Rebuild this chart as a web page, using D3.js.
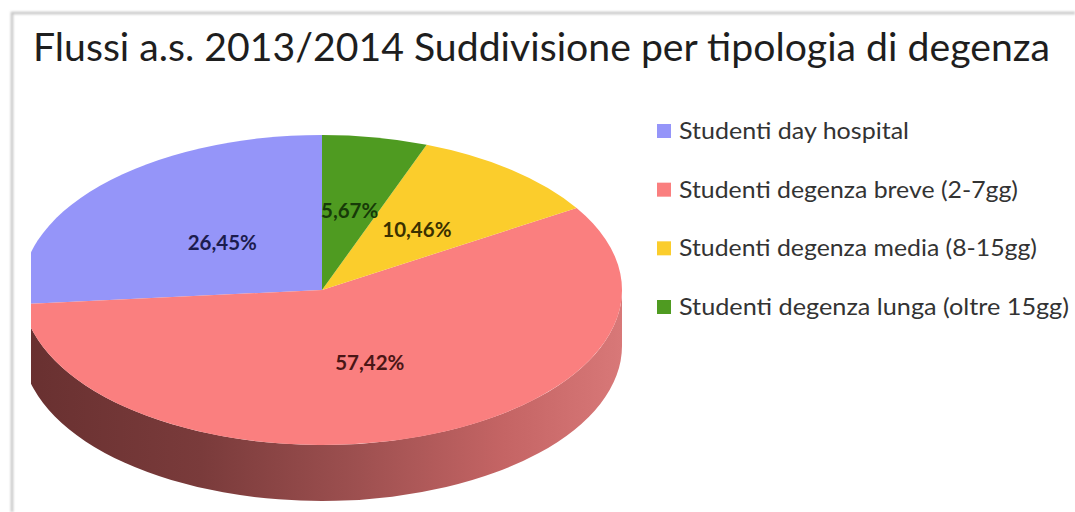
<!DOCTYPE html>
<html><head><meta charset="utf-8">
<script src="https://cdn.jsdelivr.net/npm/d3@7"></script>
<style>html,body{margin:0;padding:0;background:#fff;}svg{display:block;}</style>
</head><body>
<svg id="chart" width="1075" height="512"></svg>
<script>
const titleText = "Flussi a.s. 2013/2014 Suddivisione per tipologia di degenza";
const categories = ["Studenti day hospital","Studenti degenza breve (2-7gg)","Studenti degenza media (8-15gg)","Studenti degenza lunga (oltre 15gg)"];
const values = [26.45, 57.42, 10.46, 5.67];
const valueLabels = ["26,45%","57,42%","10,46%","5,67%"];
const colors = ["#9595f9","#fa7f7f","#fbcd2c","#4f9b21"];
const labelColors = ["#1c1c4e","#4a1616","#3a3000","#173a08"];

const svg = d3.select("#chart");
const W = 1075, H = 512;
svg.append("rect").attr("width",W).attr("height",H).attr("fill","#fff");

// frame
const defs = svg.append("defs");
const blur = defs.append("filter").attr("id","soft");
blur.append("feGaussianBlur").attr("stdDeviation",0.8);
svg.append("path").attr("d",`M12,${H} L12,13 L${W},13`).attr("fill","none")
  .attr("stroke","#c4c4c4").attr("stroke-width",2.5).attr("filter","url(#soft)");

// title
svg.append("text").attr("x",33).attr("y",61).text(titleText)
  .attr("font-family","Lato, 'Open Sans', sans-serif").attr("font-size",39)
  .attr("fill","#1e1e1e").attr("textLength",1017).attr("lengthAdjust","spacingAndGlyphs");

// pie geometry
const cx = 322, cy = 290, rx = 300, ry = 155, depth = 56;
const pie = d3.pie().sort(null).value(d => d).startAngle(2*Math.PI).endAngle(0);
const arcs = pie(values);

defs.append("clipPath").attr("id","pieclip").append("rect")
  .attr("x",31).attr("y",0).attr("width",W).attr("height",H);
const grad = defs.append("linearGradient").attr("id","sideGrad")
  .attr("gradientUnits","userSpaceOnUse").attr("x1",cx-rx).attr("x2",cx+rx).attr("y1",0).attr("y2",0);
[[0,"#683030"],[0.3,"#7a3b3b"],[0.55,"#9c4f4f"],[0.8,"#c46464"],[1,"#d87878"]]
  .forEach(s => grad.append("stop").attr("offset",s[0]).attr("stop-color",s[1]));

const pieG = svg.append("g").attr("clip-path","url(#pieclip)");
const P = (a, dy=0) => [cx + rx*Math.sin(a), cy - ry*Math.cos(a) + dy];

// sides (front half only)
arcs.forEach((d,i) => {
  const lo = Math.min(d.startAngle,d.endAngle), hi = Math.max(d.startAngle,d.endAngle);
  const s = Math.max(lo, Math.PI/2), e = Math.min(hi, 3*Math.PI/2);
  if (e <= s) return;
  const p1 = P(s), p2 = P(e), p3 = P(e,depth), p4 = P(s,depth);
  const path = `M${p1} A${rx},${ry} 0 0 1 ${p2} L${p3} A${rx},${ry} 0 0 0 ${p4} Z`;
  pieG.append("path").attr("d",path).attr("fill","url(#sideGrad)");
});

// top faces
const arcGen = d3.arc().innerRadius(0).outerRadius(rx);
const topFace = pieG.append("g").attr("transform",`translate(${cx},${cy}) scale(1,${ry/rx})`);
topFace.selectAll("path").data(arcs).join("path")
  .attr("d",arcGen).attr("fill",(d,i)=>colors[i]);

// labels
const labelR = [0.45,0.5,0.5,0.52];
arcs.forEach((d,i) => {
  const m = (d.startAngle + d.endAngle)/2;
  const x = cx + rx*labelR[i]*Math.sin(m);
  const y = cy - ry*labelR[i]*Math.cos(m);
  svg.append("text").attr("x",x).attr("y",y+7).attr("text-anchor","middle")
    .attr("font-family","Lato, 'Open Sans', sans-serif").attr("font-weight","bold")
    .attr("font-size",20.5).attr("fill",labelColors[i]).text(valueLabels[i]);
});

// legend
const legY = d3.scalePoint().domain(categories).range([131,307]);
const legWidths = [230,339,358,390];
const leg = svg.append("g");
categories.forEach((c,i) => {
  const y = legY(c);
  leg.append("rect").attr("x",657).attr("y",y-7).attr("width",14).attr("height",14).attr("fill",colors[i]);
  leg.append("text").attr("x",679).attr("y",y+8).text(c)
    .attr("font-family","Lato, 'Open Sans', sans-serif").attr("font-size",22.5).attr("fill","#333")
    .attr("textLength",legWidths[i]).attr("lengthAdjust","spacingAndGlyphs");
});
</script>
</body></html>
